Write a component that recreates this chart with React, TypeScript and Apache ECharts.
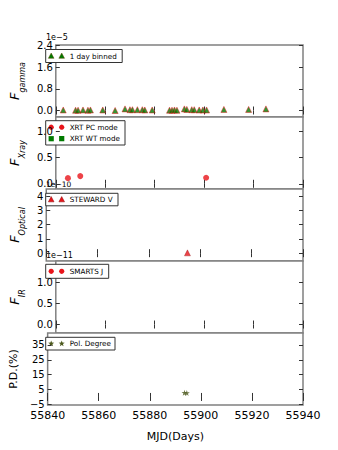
import React, { useEffect, useRef } from "react";
import * as echarts from "echarts";

// ---- data ----
const xMin = 55840;
const xMax = 55940;
const xInterval = 20;

// Fermi gamma (x 1e-5)
const gammaMjd = [55843, 55848, 55849, 55851, 55853, 55854, 55859, 55864, 55868, 55870, 55871, 55873, 55875, 55876, 55879, 55886, 55887, 55888, 55889, 55892, 55893, 55895, 55896, 55898, 55899.5, 55901, 55908, 55918, 55925];
const gammaFlux = [0.02, 0.01, 0.01, 0.02, 0.01, 0.02, 0.02, 0.0, 0.06, 0.03, 0.03, 0.03, 0.03, 0.02, 0.02, 0.01, 0.01, 0.02, 0.01, 0.06, 0.04, 0.03, 0.03, 0.02, 0.02, 0.02, 0.04, 0.04, 0.06];
const gammaTicks = [0, 0.8, 1.6, 2.4];

// XRT (x 1e-10)
const xrtPcMjd = [55844.9, 55849.9, 55900.8];
const xrtPcFlux = [0.108, 0.147, 0.116];
const xrtWtMjd: number[] = [];
const xrtWtFlux: number[] = [];
const xrayTicks = [0, 0.5, 1.0];

// Optical (x 1e-11)
const opticalMjd = [55895];
const opticalFlux = [0.02];
const opticalTicks = [0, 1, 2, 3, 4];

// IR
const irMjd: number[] = [];
const irFlux: number[] = [];
const irTicks = [0, 0.5, 1.0];

// Polarization degree (%)
const pdMjd = [55893.6, 55894.5];
const pdValue = [2.8, 2.7];
const pdTicks = [-5, 5, 15, 25, 35];

const pairs = (xs: number[], ys: number[]) => xs.map((x, i) => [x, ys[i]]);

const RED = "#e8141a";
const GREEN = "#007a00";
const OLIVE = "#4d5a1e";
const FRAME = "#808080";
const FONT = "DejaVu Sans";

const STAR = "path://M50,0 L61,35 L98,35 L68,57 L79,91 L50,70 L21,91 L32,57 L2,35 L39,35 Z";

export default function App() {
  const ref = useRef<HTMLDivElement>(null);
  useEffect(() => {
    if (!ref.current) return;
    const chart = echarts.init(ref.current, null, { renderer: "svg" });

    const tops = [45, 117, 189, 261, 333];
    const h = 72;
    const panels = [
      { min: -0.24, max: 2.42, ticks: gammaTicks, fmt: (v: number) => v.toFixed(1), name: "{f|F}{s|gamma}", gap: 20 },
      { min: -0.1, max: 1.28, ticks: xrayTicks, fmt: (v: number) => v.toFixed(1), name: "{f|F}{s|Xray}", gap: 21 },
      { min: -0.55, max: 4.5, ticks: opticalTicks, fmt: (v: number) => String(v), name: "{f|F}{s|Optical}", gap: 9 },
      { min: -0.2, max: 1.5, ticks: irTicks, fmt: (v: number) => v.toFixed(1), name: "{f|F}{s|IR}", gap: 20 },
      { min: -5.4, max: 43, ticks: pdTicks, fmt: (v: number) => (v < 0 ? "\u2212" + Math.abs(v) : String(v)), name: "P.D.(%)", gap: 16 },
    ];

    const grid = tops.map((t) => ({
      left: 43,
      right: 35,
      top: t,
      height: h,
      show: true,
      borderColor: FRAME,
      borderWidth: 1.5,
      backgroundColor: "#fff",
    }));

    const xAxis: any[] = [];
    const yAxis: any[] = [];
    panels.forEach((p, i) => {
      xAxis.push({
        type: "value",
        gridIndex: i,
        min: xMin,
        max: xMax,
        interval: xInterval,
        position: "bottom",
        axisLine: { show: false },
        splitLine: { show: false },
        axisTick: { inside: true, length: 4, lineStyle: { color: "#333" } },
        axisLabel: {
          show: i === 4,
          fontSize: 11,
          fontFamily: FONT,
          color: "#000",
          margin: 5,
          formatter: (v: number) => String(v),
        },
        name: i === 4 ? "MJD(Days)" : "",
        nameLocation: "middle",
        nameGap: 26,
        nameTextStyle: { fontSize: 11, fontFamily: FONT, color: "#000" },
      });
      xAxis.push({
        type: "value",
        gridIndex: i,
        min: xMin,
        max: xMax,
        interval: xInterval,
        position: "top",
        axisLine: { show: false },
        splitLine: { show: false },
        axisTick: { inside: true, length: 4, lineStyle: { color: "#333" } },
        axisLabel: { show: false },
      });
      yAxis.push({
        type: "value",
        gridIndex: i,
        min: p.min,
        max: p.max,
        position: "left",
        axisLine: { show: false },
        splitLine: { show: false },
        axisTick: { inside: true, length: 4, customValues: p.ticks, lineStyle: { color: "#333" } },
        axisLabel: {
          customValues: p.ticks,
          formatter: p.fmt,
          fontSize: 10,
          fontFamily: FONT,
          color: "#000",
          margin: 3,
        },
        name: p.name,
        nameLocation: "middle",
        nameRotate: 90,
        nameGap: p.gap,
        nameTextStyle: {
          fontSize: 11,
          fontFamily: FONT,
          color: "#000",
          rich: {
            f: { fontSize: 13, fontStyle: "italic", fontFamily: FONT, color: "#000", verticalAlign: "top", lineHeight: 18 },
            s: { fontSize: 8, fontStyle: "italic", fontFamily: FONT, color: "#000", verticalAlign: "bottom", lineHeight: 8 },
          },
        },
      });
      yAxis.push({
        type: "value",
        gridIndex: i,
        min: p.min,
        max: p.max,
        position: "right",
        axisLine: { show: false },
        splitLine: { show: false },
        axisTick: { inside: true, length: 4, customValues: p.ticks, lineStyle: { color: "#333" } },
        axisLabel: { show: false },
      });
    });

    const series: any[] = [
      {
        name: "1 day binned",
        type: "scatter",
        xAxisIndex: 0,
        yAxisIndex: 0,
        symbol: "triangle",
        symbolSize: 6,
        itemStyle: { color: GREEN, borderColor: RED, borderWidth: 0.6 },
        data: pairs(gammaMjd, gammaFlux),
      },
      {
        name: "XRT PC mode",
        type: "scatter",
        xAxisIndex: 2,
        yAxisIndex: 2,
        symbol: "circle",
        symbolSize: 6,
        itemStyle: { color: RED },
        data: pairs(xrtPcMjd, xrtPcFlux),
      },
      {
        name: "XRT WT mode",
        type: "scatter",
        xAxisIndex: 2,
        yAxisIndex: 2,
        symbol: "rect",
        symbolSize: 6,
        itemStyle: { color: GREEN },
        data: pairs(xrtWtMjd, xrtWtFlux),
      },
      {
        name: "STEWARD V",
        type: "scatter",
        xAxisIndex: 4,
        yAxisIndex: 4,
        symbol: "triangle",
        symbolSize: 6,
        itemStyle: { color: RED, borderColor: "#800", borderWidth: 0.4 },
        data: pairs(opticalMjd, opticalFlux),
      },
      {
        name: "SMARTS J",
        type: "scatter",
        xAxisIndex: 6,
        yAxisIndex: 6,
        symbol: "circle",
        symbolSize: 6,
        itemStyle: { color: RED },
        data: pairs(irMjd, irFlux),
      },
      {
        name: "Pol. Degree",
        type: "scatter",
        xAxisIndex: 8,
        yAxisIndex: 8,
        symbol: STAR,
        symbolSize: 6,
        itemStyle: { color: OLIVE },
        data: pairs(pdMjd, pdValue),
      },
    ];

    // matplotlib-style legend boxes (two markers per entry)
    const mkMarker = (kind: string, color: string, cx: number, cy: number, stroke?: string): any => {
      if (kind === "circle") return { type: "circle", shape: { cx, cy, r: 2.6 }, style: { fill: color } };
      if (kind === "rect") return { type: "rect", shape: { x: cx - 2.6, y: cy - 2.6, width: 5.2, height: 5.2 }, style: { fill: color } };
      if (kind === "triangle")
        return {
          type: "polygon",
          shape: { points: [[cx, cy - 3], [cx + 2.8, cy + 2.3], [cx - 2.8, cy + 2.3]] },
          style: { fill: color, stroke: stroke || color, lineWidth: 0.5 },
        };
      // star
      const pts: number[][] = [];
      for (let k = 0; k < 10; k++) {
        const r = k % 2 === 0 ? 3.2 : 1.3;
        const a = -Math.PI / 2 + (k * Math.PI) / 5;
        pts.push([cx + r * Math.cos(a), cy + r * Math.sin(a)]);
      }
      return { type: "polygon", shape: { points: pts }, style: { fill: color } };
    };

    const legendBox = (x: number, y: number, w: number, hh: number, rows: { kind: string; color: string; label: string; stroke?: string }[]) => {
      const children: any[] = [
        { type: "rect", shape: { x, y, width: w, height: hh }, style: { fill: "#fff", stroke: "#333", lineWidth: 1 } },
      ];
      const rowH = rows.length > 1 ? 11.5 : 0;
      rows.forEach((r, i) => {
        const cy = y + (rows.length > 1 ? 6.5 + i * rowH : hh / 2);
        children.push(mkMarker(r.kind, r.color, x + 5.5, cy, r.stroke));
        children.push(mkMarker(r.kind, r.color, x + 16, cy, r.stroke));
        children.push({
          type: "text",
          x: x + 24,
          y: cy,
          style: { text: r.label, fontSize: 7.2, fontFamily: FONT, fill: "#000", verticalAlign: "middle" },
        });
      });
      return { type: "group", children };
    };

    const graphic: any[] = [
      legendBox(45.7, 49.5, 76.5, 13, [{ kind: "triangle", color: GREEN, label: "1 day binned", stroke: "#5a4a00" }]),
      legendBox(45.7, 120.7, 79.3, 24.3, [
        { kind: "circle", color: RED, label: "XRT PC mode" },
        { kind: "rect", color: GREEN, label: "XRT WT mode" },
      ]),
      legendBox(45.7, 193.3, 72.3, 12.5, [{ kind: "triangle", color: RED, label: "STEWARD V", stroke: "#800" }]),
      legendBox(45.7, 264.3, 63, 14, [{ kind: "circle", color: RED, label: "SMARTS J" }]),
      legendBox(45.7, 337.3, 69.3, 12.7, [{ kind: "star", color: OLIVE, label: "Pol. Degree" }]),
      { type: "text", x: 46, y: 41.5, style: { text: "1e\u22125", fontSize: 8, fontFamily: FONT, fill: "#000", verticalAlign: "bottom" } },
      { type: "text", x: 46, y: 188.2, style: { text: "1e\u221210", fontSize: 7.5, fontFamily: FONT, fill: "#000", verticalAlign: "bottom" } },
      { type: "text", x: 46, y: 259.5, style: { text: "1e\u221211", fontSize: 8, fontFamily: FONT, fill: "#000", verticalAlign: "bottom" } },
    ];

    chart.setOption({
      animation: false,
      backgroundColor: "#fff",
      grid,
      xAxis,
      yAxis,
      series,
      graphic,
    });
    return () => chart.dispose();
  }, []);

  return <div ref={ref} style={{ width: 338, height: 450, position: "absolute", left: 0, top: 0 }} />;
}
